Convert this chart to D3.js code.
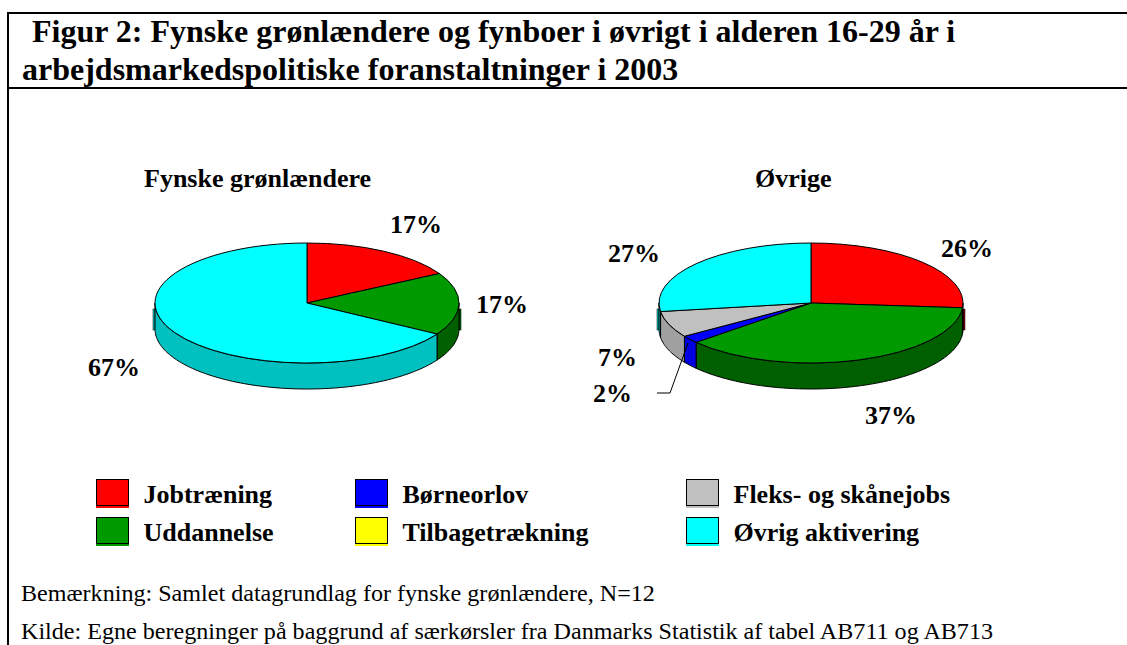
<!DOCTYPE html>
<html>
<head>
<meta charset="utf-8">
<script src="https://cdn.jsdelivr.net/npm/d3@7"></script>
<style>
html, body { margin: 0; padding: 0; background: #fff; overflow: hidden; }
text { font-family: "Liberation Serif", "Times New Roman", serif; fill: #000; }
</style>
</head>
<body>
<svg id="chart" width="1127" height="645"></svg>
<script>
var categories = ["Jobtræning", "Uddannelse", "Børneorlov", "Tilbagetrækning", "Fleks- og skånejobs", "Øvrig aktivering"];
var fynske_values = [17, 17, 0, 0, 0, 67];
var oevrige_values = [26, 37, 2, 0, 7, 27];
var title_lines = ["Figur 2: Fynske grønlændere og fynboer i øvrigt i alderen 16-29 år i", "arbejdsmarkedspolitiske foranstaltninger i 2003"];
var notes = ["Bemærkning: Samlet datagrundlag for fynske grønlændere, N=12", "Kilde: Egne beregninger på baggrund af særkørsler fra Danmarks Statistik af tabel AB711 og AB713"];

var top_colors = ["#ff0000", "#009900", "#0000ff", "#ffff00", "#c0c0c0", "#00ffff"];
var side_colors = ["#800000", "#006000", "#0000e0", "#c0c000", "#a0a0a0", "#00c0c0"];

var svg = d3.select("#chart");

// frame
svg.append("line").attr("x1", 8).attr("x2", 1127).attr("y1", 13).attr("y2", 13).attr("stroke", "#000").attr("stroke-width", 2);
svg.append("line").attr("x1", 8).attr("x2", 1127).attr("y1", 88).attr("y2", 88).attr("stroke", "#000").attr("stroke-width", 2);
svg.append("line").attr("x1", 8).attr("x2", 8).attr("y1", 12).attr("y2", 645).attr("stroke", "#000").attr("stroke-width", 2);

svg.selectAll(".title")
    .data(title_lines)
    .enter().append("text")
    .attr("class", "title")
    .attr("x", (d, i) => i == 0 ? 32 : 22)
    .attr("y", (d, i) => 42 + i * 38)
    .attr("font-size", "32px")
    .attr("font-weight", "bold")
    .text(d => d);

var rx = 152, ry = 60, depth = 26;

function edge(cx, cy, a) {
    return [cx + rx * Math.sin(a), cy - ry * Math.cos(a)];
}

function draw_pie(values, cx, cy, heading, heading_x, labels) {
    var g = svg.append("g");
    var slices = d3.pie().sort(null).value(d => d)(values)
        .map((d, i) => Object.assign(d, {i: i}))
        .filter(d => d.value > 0);

    // little stubs sticking out at the widest points of the wall
    [Math.PI / 2, Math.PI * 1.5].forEach(function(a) {
        var hit = slices.find(d => d.startAngle <= a && a < d.endAngle);
        g.append("rect")
            .attr("x", a < Math.PI ? cx + rx : cx - rx - 2)
            .attr("y", cy + 6)
            .attr("width", 2)
            .attr("height", 21)
            .attr("fill", side_colors[hit.i])
            .attr("stroke", "#000")
            .attr("stroke-width", 0.5);
    });

    // side wall: only the part of each slice that faces the viewer
    var a0 = Math.PI / 2, a1 = Math.PI * 1.5;
    slices.forEach(function(d) {
        var s = Math.max(d.startAngle, a0), e = Math.min(d.endAngle, a1);
        if(e <= s) return;
        var n = Math.ceil((e - s) / 0.02);
        var angles = d3.range(n + 1).map(k => s + (e - s) * k / n);
        var front = angles.map(a => edge(cx, cy, a));
        var back = angles.slice().reverse().map(a => {
            var p = edge(cx, cy, a);
            return [p[0], p[1] + depth];
        });
        g.append("path")
            .attr("d", d3.line()(front.concat(back)) + "Z")
            .attr("fill", side_colors[d.i])
            .attr("stroke", "#000")
            .attr("stroke-width", 1);
    });

    // top face: d3.arc on a circle squashed to the ellipse
    var arc = d3.arc().innerRadius(0).outerRadius(rx);
    g.append("g")
        .attr("transform", `translate(${cx},${cy}) scale(1,${ry / rx})`)
        .selectAll("path")
        .data(slices)
        .enter().append("path")
        .attr("d", arc)
        .attr("fill", d => top_colors[d.i])
        .attr("stroke", "#000")
        .attr("stroke-width", 1)
        .attr("vector-effect", "non-scaling-stroke");

    svg.append("text")
        .attr("x", heading_x)
        .attr("y", 187)
        .attr("font-size", "26px")
        .attr("font-weight", "bold")
        .text(heading);

    labels.forEach(function(l) {
        svg.append("text")
            .attr("x", l.x)
            .attr("y", l.y)
            .attr("font-size", "26px")
            .attr("font-weight", "bold")
            .text(l.t);
    });
}

draw_pie(fynske_values, 307, 303, "Fynske grønlændere", 144, [
    {t: fynske_values[0] + "%", x: 390, y: 233},
    {t: fynske_values[1] + "%", x: 476, y: 313},
    {t: fynske_values[5] + "%", x: 88, y: 376}
]);
draw_pie(oevrige_values, 811, 303, "Øvrige", 755, [
    {t: oevrige_values[0] + "%", x: 941, y: 257},
    {t: oevrige_values[1] + "%", x: 865, y: 424},
    {t: oevrige_values[2] + "%", x: 593, y: 402},
    {t: oevrige_values[4] + "%", x: 598, y: 366},
    {t: oevrige_values[5] + "%", x: 608, y: 262}
]);

// leader line for the 2% slice
svg.append("polyline")
    .attr("points", "657,393 670,393 688,343")
    .attr("fill", "none")
    .attr("stroke", "#000")
    .attr("stroke-width", 1);

// legend
var legend_x = [96, 355, 686], legend_y = [479, 517];
var legend = svg.selectAll(".legend")
    .data(categories)
    .enter().append("g")
    .attr("class", "legend")
    .attr("transform", (d, i) => `translate(${legend_x[Math.floor(i / 2)]},${legend_y[i % 2]})`);
legend.append("rect")
    .attr("width", 33)
    .attr("height", 29)
    .attr("fill", (d, i) => top_colors[i]);
legend.append("rect")
    .attr("x", 0.5)
    .attr("y", 0.5)
    .attr("width", 32)
    .attr("height", 26)
    .attr("fill", (d, i) => top_colors[i])
    .attr("stroke", "#000")
    .attr("stroke-width", 1);
legend.append("text")
    .attr("x", 47.5)
    .attr("y", 24)
    .attr("font-size", "26px")
    .attr("font-weight", "bold")
    .text(d => d);

svg.selectAll(".note")
    .data(notes)
    .enter().append("text")
    .attr("class", "note")
    .attr("x", 21)
    .attr("y", (d, i) => 601 + i * 38)
    .attr("font-size", "24.1px")
    .text(d => d);
</script>
</body>
</html>
